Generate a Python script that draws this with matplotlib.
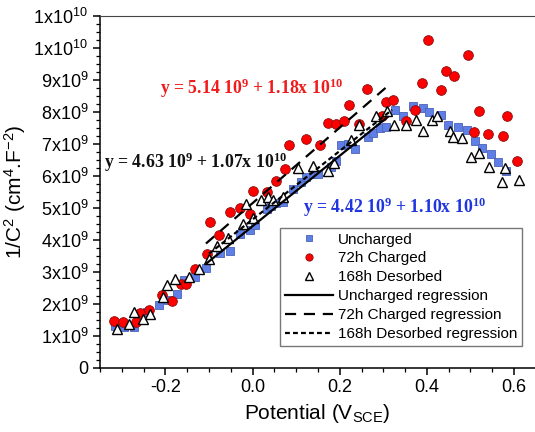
import matplotlib.pyplot as plt
import numpy as np
from matplotlib.ticker import FuncFormatter, MultipleLocator

plt.rcParams['font.family'] = ['Liberation Sans', 'DejaVu Sans']
plt.rcParams['mathtext.default'] = 'regular'

# potential (V_SCE) and 1/C^2 (in 1e9 cm^4.F^-2)
uncharged_v = [-0.315, -0.296, -0.271, -0.242, -0.214, -0.193, -0.174, -0.158, -0.131,
               -0.107, -0.075, -0.052, -0.028, -0.006, 0.005, 0.032, 0.043, 0.053, 0.070,
               0.092, 0.111, 0.123, 0.138, 0.150, 0.181, 0.192, 0.204, 0.219, 0.234,
               0.265, 0.276, 0.292, 0.307, 0.326, 0.344, 0.367, 0.391, 0.405, 0.432,
               0.448, 0.471, 0.491, 0.511, 0.527, 0.548, 0.562, 0.582]
uncharged_y = [1.30, 1.28, 1.26, 1.73, 1.97, 2.10, 2.30, 2.73, 2.83, 3.11, 3.57, 3.65,
               4.16, 4.30, 4.45, 4.97, 5.05, 5.13, 5.18, 5.57, 5.81, 5.95, 6.05, 6.05,
               6.26, 6.45, 6.96, 6.99, 6.82, 7.22, 7.32, 7.48, 7.52, 8.05, 7.86, 8.17,
               8.11, 8.00, 7.90, 7.59, 7.53, 7.41, 7.09, 6.86, 6.68, 6.44, 6.15]

charged_v = [-0.319, -0.298, -0.267, -0.258, -0.238, -0.208, -0.185, -0.165, -0.153,
             -0.131, -0.105, -0.097, -0.078, -0.052, -0.028, -0.005, 0.002, 0.032, 0.054,
             0.074, 0.084, 0.123, 0.154, 0.174, 0.192, 0.210, 0.222, 0.245, 0.262, 0.296,
             0.307, 0.322, 0.352, 0.372, 0.389, 0.403, 0.432, 0.444, 0.463, 0.494, 0.508,
             0.520, 0.541, 0.575, 0.583, 0.607]
charged_y = [1.47, 1.44, 1.42, 1.70, 1.81, 2.28, 2.07, 2.62, 2.62, 3.08, 3.56, 4.55,
             4.14, 4.85, 5.00, 4.81, 5.51, 5.50, 5.83, 6.21, 6.96, 7.14, 6.95, 7.65,
             7.60, 7.72, 8.20, 7.60, 8.70, 7.85, 8.29, 8.37, 7.72, 8.06, 8.89, 10.23,
             8.68, 9.26, 9.11, 9.78, 7.37, 8.01, 7.30, 7.24, 7.87, 6.45]

desorbed_v = [-0.312, -0.284, -0.271, -0.252, -0.236, -0.205, -0.197, -0.178, -0.145,
              -0.124, -0.101, -0.082, -0.056, -0.022, -0.014, 0.001, 0.020, 0.035, 0.047,
              0.070, 0.104, 0.139, 0.172, 0.186, 0.226, 0.245, 0.283, 0.309, 0.324, 0.351,
              0.374, 0.392, 0.412, 0.422, 0.454, 0.460, 0.481, 0.501, 0.520, 0.543, 0.573,
              0.579, 0.612]
desorbed_y = [1.21, 1.37, 1.73, 1.53, 1.68, 2.20, 2.57, 2.78, 2.83, 3.09, 3.40, 3.80,
              4.05, 4.48, 5.12, 4.66, 5.25, 5.34, 5.23, 5.34, 6.23, 6.29, 6.14, 6.40,
              7.12, 7.59, 7.87, 8.03, 7.59, 7.59, 7.73, 7.38, 7.73, 7.86, 7.38, 7.22,
              7.17, 6.59, 6.70, 6.28, 5.81, 6.23, 5.86]

# linear regressions: intercept, slope, fitted range
fits = {
    'Uncharged regression': (4.42e9, 1.10e10, -0.105, 0.31),
    '72h Charged regression': (5.14e9, 1.18e10, -0.107, 0.305),
    '168h Desorbed regression': (4.63e9, 1.07e10, -0.10, 0.32),
}
fit_styles = {
    'Uncharged regression': '-',
    '72h Charged regression': (0, (5, 3.5)),
    '168h Desorbed regression': (0, (2.2, 1.4)),
}


def ytick_fmt(v, pos):
    if v <= 0:
        return '0' if v == 0 else ''
    exp = int(np.floor(np.log10(v) + 1e-9))
    mant = int(round(v / 10 ** exp))
    return r'$%dx10^{%d}$' % (mant, exp)


fig = plt.figure(figsize=(5.35, 4.32), dpi=100)
ax = fig.add_axes([0.187, 0.149, 0.813, 0.815])

ax.plot(uncharged_v, np.array(uncharged_y) * 1e9, 's', color='#5f7fe6', mec='#4a63b8',
        mew=0.6, ms=6.2, label='Uncharged', zorder=3)
ax.plot(charged_v, np.array(charged_y) * 1e9, 'o', color='#ff0000', mec='#8a1010',
        mew=0.6, ms=7, label='72h Charged', zorder=3)
ax.plot(desorbed_v, np.array(desorbed_y) * 1e9, '^', color='white', mec='black',
        mew=1.0, ms=7.5, label='168h Desorbed', zorder=4)

for name, (b, m, x0, x1) in fits.items():
    xs = np.array([x0, x1])
    ax.plot(xs, b + m * xs, color='black', lw=1.6, linestyle=fit_styles[name],
            label=name, zorder=5)

eq_font = dict(family='Liberation Serif', fontweight='bold', fontsize=12.8)
ax.text(-0.212, 8.73e9, r'y = 5.14 10$^{9}$ + 1.18x 10$^{10}$', color='#f01c1c',
        ha='left', va='center', **eq_font)
ax.text(-0.341, 6.42e9, r'y = 4.63 10$^{9}$ + 1.07x 10$^{10}$', color='#111111',
        ha='left', va='center', **eq_font)
ax.text(0.115, 5.02e9, r'y = 4.42 10$^{9}$ + 1.10x 10$^{10}$', color='#1f35e0',
        ha='left', va='center', **eq_font)

ax.set_xlim(-0.35, 0.648)
ax.set_ylim(0, 1.1e10)
ax.xaxis.set_major_locator(MultipleLocator(0.2))
ax.xaxis.set_minor_locator(MultipleLocator(0.05))
ax.yaxis.set_major_locator(MultipleLocator(1e9))
ax.yaxis.set_minor_locator(MultipleLocator(2.5e8))
ax.xaxis.set_major_formatter(FuncFormatter(lambda v, p: '%.1f' % v))
ax.yaxis.set_major_formatter(FuncFormatter(ytick_fmt))
ax.tick_params(which='major', direction='out', length=5, width=1.1, labelsize=13,
               top=False, right=False)
ax.tick_params(which='minor', direction='out', length=3, width=0.9, top=False, right=False)

ax.spines['right'].set_visible(False)
ax.spines['top'].set_color('#444444')
ax.spines['left'].set_linewidth(1.1)
ax.spines['bottom'].set_linewidth(1.1)

ax.set_xlabel(r'Potential (V$_{SCE}$)', fontsize=15)
ax.set_ylabel(r'1/C$^{2}$ (cm$^{4}$.F$^{-2}$)', fontsize=15)

leg = ax.legend(loc='upper left', bbox_to_anchor=(280 / 535, 1 - 228 / 432),
                bbox_transform=fig.transFigure, borderaxespad=0, fancybox=False,
                fontsize=11, markerscale=0.75, handlelength=3.2, labelspacing=0.32,
                handletextpad=0.3, borderpad=0.3, framealpha=1)
leg.get_frame().set_edgecolor('#777777')
leg.get_frame().set_linewidth(1.0)

fig.savefig('out.png', dpi=100)
